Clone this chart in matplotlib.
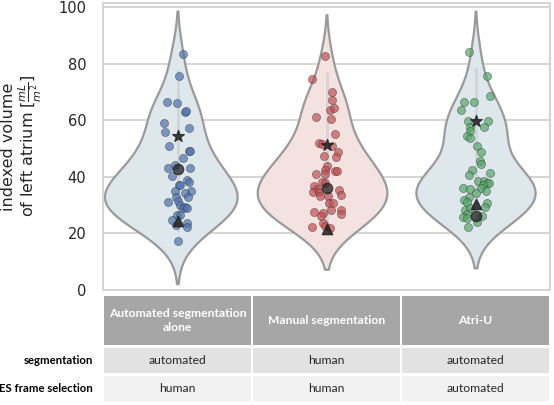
import numpy as np
import matplotlib.pyplot as plt
from matplotlib.patches import Rectangle
import matplotlib.transforms as mtransforms

# ---- data ----
groups = ["Automated segmentation\nalone", "Manual segmentation", "Atri-U"]
row_labels = ["segmentation", "ES frame selection"]
row_segmentation = ["automated", "human", "automated"]
row_es_frame = ["human", "human", "automated"]

auto_vals = [83.4, 75.6, 66.5, 66.3, 63.1, 63.3, 59.1, 57.3, 56.0, 50.9, 49.1, 49.1, 46.7,
             43.1, 44.3, 43.3, 40.2, 39.0, 38.1, 37.3, 37.3, 34.9, 35.0, 34.2, 32.8, 32.8,
             31.1, 31.3, 30.2, 29.0, 29.2, 28.9, 26.6, 26.5, 24.9, 23.1, 23.6, 22.4, 17.5]
auto_jit = [0.038, 0.009, -0.072, -0.005, 0.051, 0.060, -0.090, 0.074, -0.087, -0.060, 0.074,
            0.083, 0.036, -0.067, -0.020, 0.081, -0.038, 0.062, 0.074, 0.009, 0.017, -0.020,
            0.091, 0.051, -0.013, 0.071, -0.065, 0.0, 0.015, 0.036, 0.049, 0.067, -0.005,
            0.015, -0.038, -0.013, 0.062, 0.064, 0.004]

manual_vals = [82.9, 74.7, 69.9, 67.1, 63.8, 64.4, 61.1, 60.3, 55.2, 52.1, 51.6, 50.9, 48.8,
               47.4, 47.0, 43.8, 42.4, 42.2, 42.2, 41.1, 40.9, 38.3, 37.9, 36.7, 35.6, 34.5,
               34.5, 33.3, 35.4, 33.7, 33.2, 30.8, 30.8, 28.4, 28.2, 26.8, 27.7, 27.1, 26.2,
               23.6, 22.5, 22.3, 21.8]
manual_jit = [-0.011, -0.096, 0.034, 0.034, 0.022, 0.047, -0.072, 0.029, 0.054, -0.052, -0.029,
              0.034, 0.079, -0.018, 0.062, 0.0, -0.007, 0.060, 0.069, -0.069, -0.007, -0.029,
              -0.013, -0.081, -0.065, -0.092, -0.052, -0.042, 0.083, 0.094, 0.013, 0.018,
              0.042, 0.029, 0.096, 0.094, -0.083, -0.022, -0.036, -0.025, -0.007, -0.094, 0.025]

atriu_vals = [84.1, 75.6, 68.7, 66.5, 66.5, 63.5, 59.8, 59.8, 57.5, 57.7, 56.1, 54.4, 53.7,
              51.0, 48.8, 45.5, 44.4, 42.4, 41.3, 40.5, 38.4, 38.7, 38.0, 37.8, 36.1, 35.8,
              37.2, 36.1, 34.9, 34.2, 33.0, 32.0, 31.0, 30.8, 28.4, 29.0, 29.2, 26.9, 25.7,
              25.3, 26.3, 23.9, 22.3]
atriu_jit = [-0.045, 0.074, 0.096, -0.079, -0.013, -0.094, -0.049, 0.081, -0.034, 0.058, -0.040,
             -0.058, -0.034, 0.007, 0.034, 0.027, 0.036, -0.025, 0.099, -0.042, 0.015, 0.056,
             0.076, 0.089, -0.083, -0.038, 0.049, 0.034, 0.072, 0.0, -0.045, -0.076, -0.056,
             0.079, -0.072, -0.038, 0.067, -0.060, -0.083, -0.056, 0.045, 0.011, -0.049]

star_vals = [54.5, 51.2, 59.8]
circle_vals = [42.7, 36.2, 26.3]
triangle_vals = [24.5, 21.6, 30.4]

all_vals = [auto_vals, manual_vals, atriu_vals]
all_jit = [auto_jit, manual_jit, atriu_jit]
point_colors = ["#4c72b0", "#c44e52", "#55a868"]
violin_fill = ["#dde7ec", "#f3e2df", "#dde7ec"]
left_half = [0.49, 0.465, 0.40]   # the two first violins bulge more on the left
right_half = [0.40, 0.405, 0.40]

# ---- figure ----
W, H = 554, 405
fig = plt.figure(figsize=(W / 100, H / 100), dpi=100)
ax = fig.add_axes([103 / W, 1 - 290 / H, 447 / W, 287 / H])


def kde_violin(v, n=300):
    v = np.asarray(v)
    bw = v.std(ddof=1) * len(v) ** (-1 / 5)
    y = np.linspace(v.min() - 2 * bw, v.max() + 2 * bw, n)
    d = np.exp(-0.5 * ((y[:, None] - v[None, :]) / bw) ** 2).sum(axis=1)
    return y, d / d.max()


for i, (vals, jit) in enumerate(zip(all_vals, all_jit)):
    y, w = kde_violin(vals)
    ax.fill_betweenx(y, i - w * left_half[i], i + w * right_half[i],
                     facecolor=violin_fill[i], edgecolor="#9a9a9a", linewidth=1.6, zorder=2)
    # faint inner range line
    ax.plot([i, i], [np.percentile(vals, 2), max(vals) - 6], color="#c8c8c8",
            lw=2, alpha=0.6, zorder=2.5)
    ax.scatter(i + np.asarray(jit), vals, s=34, color=point_colors[i], alpha=0.7,
               edgecolor="#333333", linewidth=0.4, zorder=3)
    ax.scatter([i], [star_vals[i]], marker="*", s=75, color="#222222", alpha=0.85, zorder=4)
    ax.scatter([i], [circle_vals[i]], marker="o", s=55, color="#222222", alpha=0.75, zorder=4)
    ax.scatter([i], [triangle_vals[i]], marker="^", s=55, color="#222222", alpha=0.85, zorder=4)

ax.set_xlim(-0.5, 2.5)
ax.set_ylim(0, 101.5)
ax.set_yticks([0, 20, 40, 60, 80, 100])
ax.set_xticks([])
ax.grid(axis="y", color="#d4d4d4", lw=1.4, zorder=0)
ax.set_axisbelow(True)
for s in ax.spines.values():
    s.set_color("#d4d4d4")
    s.set_linewidth(1.4)
ax.tick_params(axis="y", length=0, pad=12, labelsize=10.5, labelcolor="#262626")
ax.set_ylabel("indexed volume\nof left atrium [$\\frac{mL}{m^2}$]", fontsize=11.5,
              color="#262626", labelpad=10, linespacing=1.05)

# ---- table below the axes ----
trans = mtransforms.blended_transform_factory(ax.transData, fig.transFigure)
rows = [  # (top px, bottom px, face colour)
    (296, 345, "#a6a6a6"),
    (348, 373, "#e2e2e2"),
    (376, 401, "#f2f2f2"),
]
gap = 0.008
for r, (top, bot, fc) in enumerate(rows):
    for i in range(3):
        fig.patches.append(Rectangle((i - 0.5 + gap, 1 - bot / H), 1 - 2 * gap,
                                     (bot - top) / H, transform=trans, facecolor=fc,
                                     edgecolor="none"))
        yc = 1 - (top + bot) / 2 / H
        if r == 0:
            fig.text(i, yc, groups[i], transform=trans, ha="center", va="center",
                     color="white", fontweight="bold", fontsize=8.7, family="Lato",
                     linespacing=1.25)
        else:
            txt = row_segmentation[i] if r == 1 else row_es_frame[i]
            fig.text(i, yc, txt, transform=trans, ha="center", va="center",
                     color="#262626", fontsize=8.7, family="Lato")
    if r > 0:
        fig.text(93 / W, 1 - (top + bot) / 2 / H, row_labels[r - 1], ha="right",
                 va="center", fontweight="bold", fontsize=8.2, family="Lato", color="black")

fig.savefig("out.png", dpi=100)
